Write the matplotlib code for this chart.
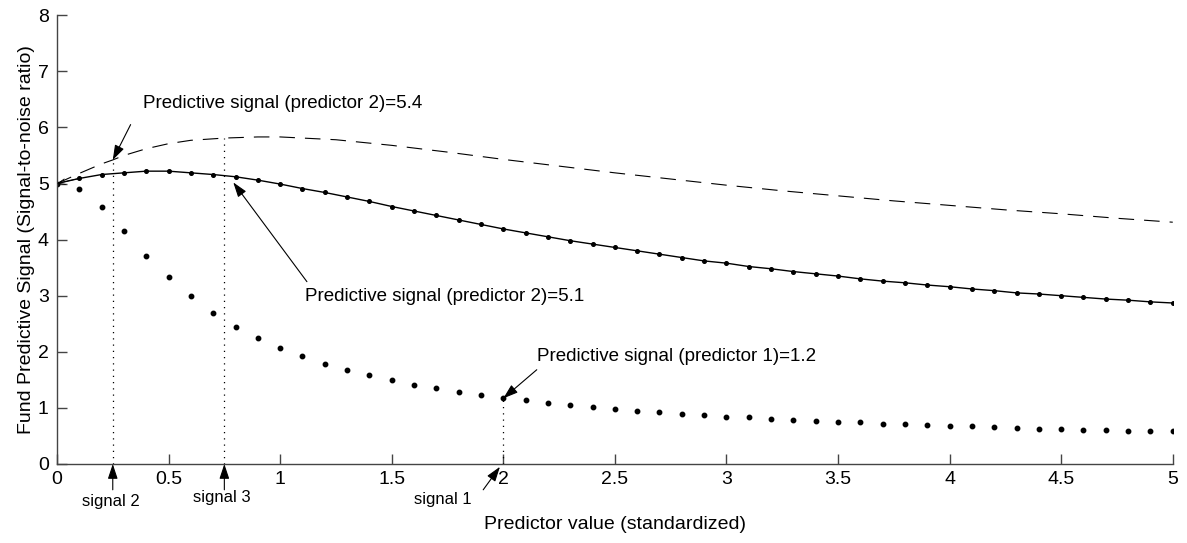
import matplotlib
matplotlib.use("Agg")
import matplotlib.pyplot as plt
import numpy as np

plt.rcParams['font.family'] = ['Liberation Sans', 'DejaVu Sans']

# ---- data ----
x_grid = [round(0.1 * i, 1) for i in range(51)]

fund_pred2 = [5.00, 5.09, 5.16, 5.19, 5.22, 5.22, 5.19, 5.16, 5.12, 5.06,
              4.99, 4.91, 4.84, 4.76, 4.68, 4.59, 4.51, 4.43, 4.35, 4.27,
              4.19, 4.12, 4.05, 3.98, 3.92, 3.86, 3.80, 3.74, 3.68, 3.62,
              3.58, 3.52, 3.48, 3.43, 3.39, 3.35, 3.30, 3.26, 3.23, 3.19,
              3.16, 3.12, 3.09, 3.05, 3.03, 3.00, 2.97, 2.94, 2.92, 2.89,
              2.87]

fund_pred1 = [5.00, 4.90, 4.58, 4.15, 3.71, 3.33, 2.99, 2.70, 2.45, 2.25,
              2.07, 1.93, 1.79, 1.68, 1.58, 1.49, 1.41, 1.35, 1.29, 1.23,
              1.18, 1.14, 1.09, 1.05, 1.02, 0.98, 0.95, 0.92, 0.90, 0.87,
              0.84, 0.83, 0.81, 0.78, 0.77, 0.75, 0.74, 0.72, 0.71, 0.70,
              0.68, 0.67, 0.66, 0.64, 0.63, 0.62, 0.61, 0.60, 0.59, 0.58,
              0.58]

dash_x = [0.0, 0.1, 0.2, 0.25, 0.3, 0.4, 0.5, 0.6, 0.75, 0.9, 1.0, 1.25, 1.5,
          1.75, 2.0, 2.25, 2.5, 2.75, 3.0, 3.25, 3.5, 3.75, 4.0, 4.25, 4.5,
          4.75, 5.0]
dash_y = [5.00, 5.18, 5.35, 5.42, 5.50, 5.62, 5.71, 5.77, 5.81, 5.83, 5.83,
          5.78, 5.68, 5.56, 5.43, 5.31, 5.19, 5.08, 4.97, 4.87, 4.78, 4.69,
          4.61, 4.53, 4.46, 4.38, 4.31]

signal_x = [0.25, 0.75, 2.0]
signal_top = [5.42, 5.81, 1.18]

xticks = [0, 0.5, 1, 1.5, 2, 2.5, 3, 3.5, 4, 4.5, 5]
xticklabels = ['0', '0.5', '1', '1.5', '2', '2.5', '3', '3.5', '4', '4.5', '5']
yticks = [0, 1, 2, 3, 4, 5, 6, 7, 8]

# ---- figure ----
fig = plt.figure(figsize=(11.87, 5.43), dpi=100)
ax = fig.add_axes([0.048, 0.1455, 0.94, 0.8265])

ax.plot(dash_x, dash_y, color='black', lw=0.8, linestyle=(0, (14, 9)))
ax.plot(x_grid, fund_pred2, color='black', lw=1.0, marker='o', markersize=2.6)
ax.plot(x_grid, fund_pred1, color='black', lw=0, marker='o', markersize=3.2)

for sx, st in zip(signal_x, signal_top):
    ax.plot([sx, sx], [0, st], color='black', lw=0.9, linestyle=(0, (1, 4)))

ax.set_xlim(0, 5)
ax.set_ylim(0, 8)
ax.set_xticks(xticks)
ax.set_xticklabels(xticklabels)
ax.set_yticks(yticks)
for s in ['top', 'right']:
    ax.spines[s].set_visible(False)
for s in ['left', 'bottom']:
    ax.spines[s].set_color('#444444')
    ax.spines[s].set_linewidth(1.0)
ax.tick_params(direction='in', length=7, width=1.0, color='#444444',
               labelsize=14)
ax.tick_params(axis='x', pad=5)
ax.tick_params(axis='y', pad=6)

ax.set_xlabel('Predictor value (standardized)', fontsize=14, labelpad=20)
ax.set_ylabel('Fund Predictive Signal (Signal-to-noise ratio)', fontsize=14,
              labelpad=2)

arrow_big = dict(arrowstyle='-|>,head_length=0.9,head_width=0.3',
                 color='black', lw=0.8, shrinkA=0, shrinkB=0)

ax.text(0.385, 6.43, 'Predictive signal (predictor 2)=5.4', fontsize=13.5,
        va='center', ha='left')
ax.annotate('', xy=(0.25, 5.42), xytext=(0.33, 6.05), arrowprops=arrow_big)

ax.text(1.11, 2.99, 'Predictive signal (predictor 2)=5.1', fontsize=13.5,
        va='center', ha='left')
ax.annotate('', xy=(0.79, 5.02), xytext=(1.12, 3.25), arrowprops=arrow_big)

ax.text(2.15, 1.91, 'Predictive signal (predictor 1)=1.2', fontsize=13.5,
        va='center', ha='left')
ax.annotate('', xy=(2.0, 1.17), xytext=(2.15, 1.68), arrowprops=arrow_big)

ax.annotate('', xy=(0.0, 5.0), xytext=(0.11, 5.1),
            arrowprops=dict(arrowstyle='->,head_length=0.5,head_width=0.2',
                            color='black', lw=0.6, shrinkA=0, shrinkB=0))

# bottom signal arrows
ax.annotate('', xy=(0.25, 0.0), xytext=(0.25, -0.46), arrowprops=arrow_big,
            annotation_clip=False)
ax.annotate('', xy=(0.75, 0.0), xytext=(0.75, -0.46), arrowprops=arrow_big,
            annotation_clip=False)
ax.annotate('', xy=(1.985, -0.05), xytext=(1.91, -0.46), arrowprops=arrow_big,
            annotation_clip=False)
ax.text(0.24, -0.66, 'signal 2', fontsize=12, ha='center', va='center')
ax.text(0.74, -0.60, 'signal 3', fontsize=12, ha='center', va='center')
ax.text(1.73, -0.64, 'signal 1', fontsize=12, ha='center', va='center')

fig.savefig('out.png', dpi=100)
